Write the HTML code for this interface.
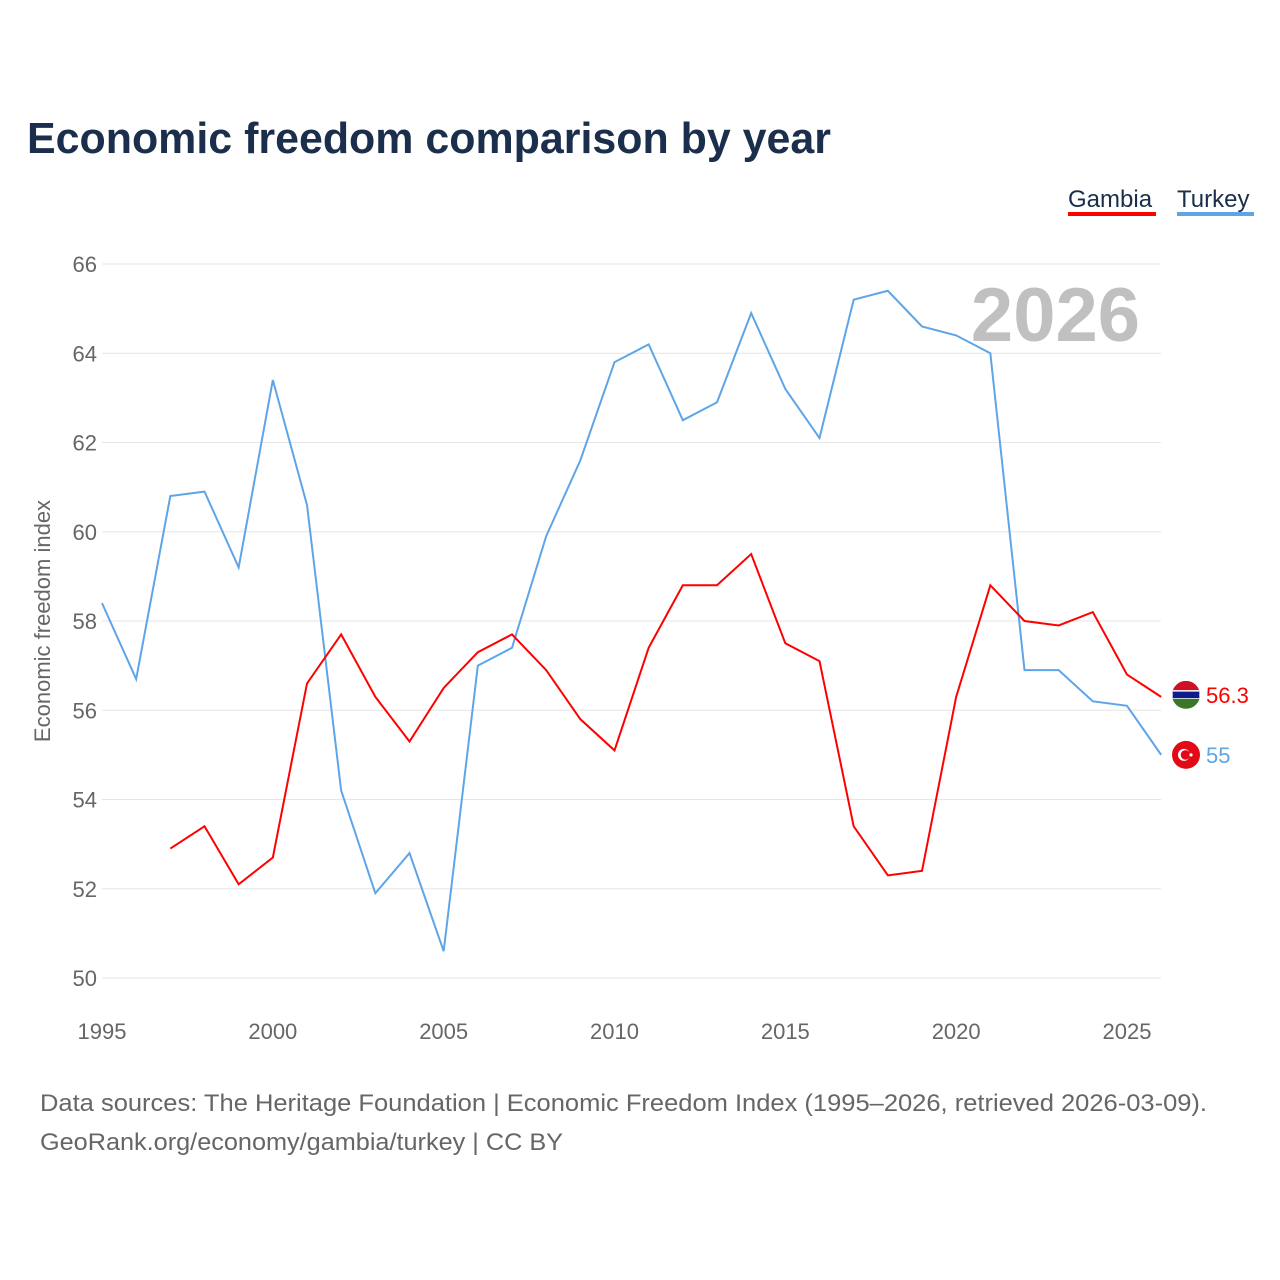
<!DOCTYPE html>
<html><head><meta charset="utf-8"><style>
body{margin:0;background:#fff;font-family:"Liberation Sans",sans-serif;}
#wrap{position:relative;width:1280px;height:1280px;overflow:hidden;}
</style></head><body>
<div id="wrap">
<svg id="chart" width="1280" height="1280">
<text x="27" y="153" font-size="44" font-weight="bold" fill="#1b2e4b" textLength="804" lengthAdjust="spacingAndGlyphs">Economic freedom comparison by year</text>
<g><text x="1068" y="207" font-size="24" fill="#1b2e4b">Gambia</text><rect x="1068" y="212" width="88" height="4" fill="#ff0000"/></g>
<g><text x="1177" y="207" font-size="24" fill="#1b2e4b">Turkey</text><rect x="1177" y="212" width="77" height="4" fill="#5ea5e8"/></g>
<text x="1140" y="341" text-anchor="end" font-size="76" font-weight="bold" fill="#c0c0c0">2026</text>
<text transform="translate(50,621) rotate(-90)" text-anchor="middle" font-size="22" fill="#666">Economic freedom index</text>
<g id="grid"></g><g id="lines"></g>
<text x="40" y="1111" font-size="24" fill="#666" textLength="1167" lengthAdjust="spacingAndGlyphs">Data sources: The Heritage Foundation | Economic Freedom Index (1995–2026, retrieved 2026-03-09).</text>
<text x="40" y="1150" font-size="24" fill="#666" textLength="523" lengthAdjust="spacingAndGlyphs">GeoRank.org/economy/gambia/turkey | CC BY</text>
</svg></div>
<script>
const years=[1995,1996,1997,1998,1999,2000,2001,2002,2003,2004,2005,2006,2007,2008,2009,2010,2011,2012,2013,2014,2015,2016,2017,2018,2019,2020,2021,2022,2023,2024,2025,2026];
const turkey=[58.4,56.7,60.8,60.9,59.2,63.4,60.6,54.2,51.9,52.8,50.6,57.0,57.4,59.9,61.6,63.8,64.2,62.5,62.9,64.9,63.2,62.1,65.2,65.4,64.6,64.4,64.0,56.9,56.9,56.2,56.1,55.0];
const gambia=[null,null,52.9,53.4,52.1,52.7,56.6,57.7,56.3,55.3,56.5,57.3,57.7,56.9,55.8,55.1,57.4,58.8,58.8,59.5,57.5,57.1,53.4,52.3,52.4,56.3,58.8,58.0,57.9,58.2,56.8,56.3];
const yTicks=[50,52,54,56,58,60,62,64,66];
const xTicks=[1995,2000,2005,2010,2015,2020,2025];
const NS="http://www.w3.org/2000/svg";
const X=y=>102+(y-1995)*(1025/30);
const Y=v=>978-(v-50)*(714/16);
function mk(t,a,p){const e=document.createElementNS(NS,t);for(const k in a)e.setAttribute(k,a[k]);p.appendChild(e);return e;}
const grid=document.getElementById('grid'),lines=document.getElementById('lines');
yTicks.forEach(v=>{
 const l=mk('line',{x1:102,x2:1161,y1:Y(v),y2:Y(v),stroke:'#e6e6e6','stroke-width':1},grid);
 
 
 const t=mk('text',{x:97,y:Y(v)+8,'text-anchor':'end','font-size':22,fill:'#666'},grid);t.textContent=v;
 
 
});
xTicks.forEach(v=>{
 const t=mk('text',{x:X(v),y:1039,'text-anchor':'middle','font-size':22,fill:'#666'},grid);t.textContent=v;
 
 
});
function series(vals,col,name){
 let d='';vals.forEach((v,i)=>{if(v==null)return;d+=(d?'L':'M')+X(years[i])+','+Y(v);});
 const p=mk('path',{d:d,fill:'none',stroke:col,'stroke-width':2},lines);
 
 
}
series(turkey,'#5ea5e8','turkey');series(gambia,'#ff0000','gambia');
const gl=gambia[gambia.length-1],tl=turkey[turkey.length-1];
const gx=1186,gy=Y(gl)-2;
const gf=mk('g',{},lines);


mk('clipPath',{id:'cg'},gf).appendChild(document.createElementNS(NS,'circle'));
const cc=gf.querySelector('circle');cc.setAttribute('cx',gx);cc.setAttribute('cy',gy);cc.setAttribute('r',14);
const gg=mk('g',{'clip-path':'url(#cg)'},gf);
mk('rect',{x:gx-14,y:gy-14,width:28,height:10,fill:'#ce1126'},gg);
mk('rect',{x:gx-14,y:gy-4,width:28,height:8,fill:'#0c1c8c',stroke:'#fff','stroke-width':1.5},gg);
mk('rect',{x:gx-14,y:gy+4,width:28,height:10,fill:'#3a7728'},gg);
const gt=mk('text',{x:1206,y:gy+8,'font-size':22,fill:'#ff0000'},lines);gt.textContent=gl;


const ty=Y(tl);
const tf=mk('g',{},lines);


mk('circle',{cx:gx,cy:ty,r:14,fill:'#e30a17'},tf);
mk('circle',{cx:gx-2,cy:ty,r:6,fill:'#fff'},tf);
mk('circle',{cx:gx-0.5,cy:ty,r:4.8,fill:'#e30a17'},tf);
mk('circle',{cx:gx+5,cy:ty,r:1.6,fill:'#fff'},tf);
const tt=mk('text',{x:1206,y:ty+8,'font-size':22,fill:'#5ea5e8'},lines);tt.textContent=tl;


</script>
</body></html>
